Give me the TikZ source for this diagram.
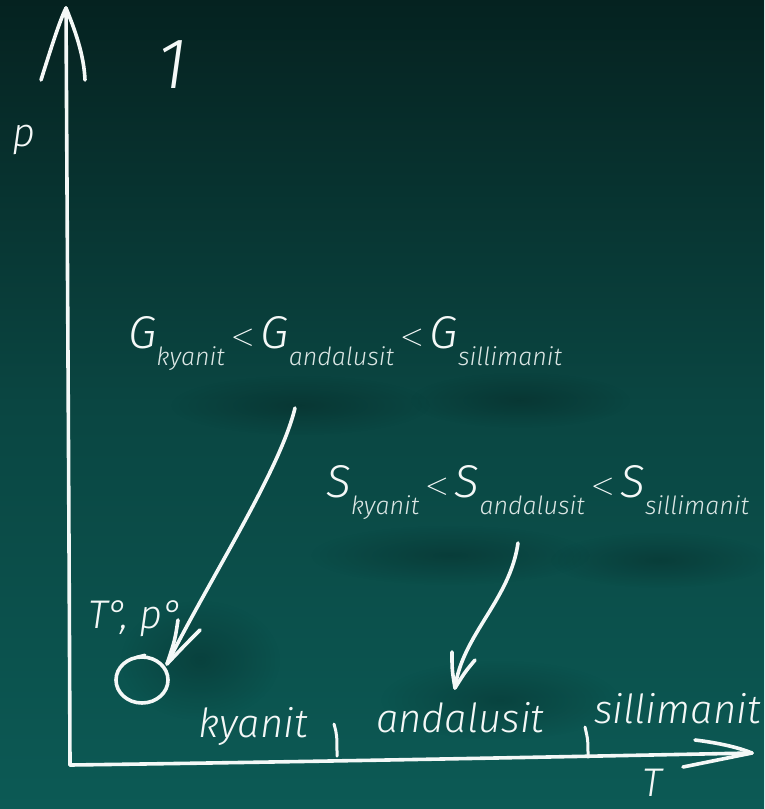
\documentclass[tikz,border=0pt]{standalone}
\usepackage{fontspec}
\usepackage{graphicx}
\usetikzlibrary{shapes.geometric,fadings}
\setmainfont{Fira Sans}[UprightFont=* Light, ItalicFont=* Light Italic]
\definecolor{bgtop}{HTML}{052220}
\definecolor{bgmid}{HTML}{0A4642}
\definecolor{bgbot}{HTML}{0C5A55}
\definecolor{chalk}{HTML}{F4F8F7}
\definecolor{chalksub}{HTML}{DCE7E5}
\tikzfading[name=softblob, inner color=transparent!40, outer color=transparent!100]
\newcommand\chsub[1]{\raisebox{-17pt}{\fontsize{25}{25}\selectfont\color{chalksub}#1}}
\newcommand\lt{\hspace{6pt}\raisebox{3pt}{\fontsize{20}{20}\selectfont\scalebox{1.5}{$<$}}\hspace{6pt}}
\begin{document}
\begin{tikzpicture}[x=1pt,y=-1pt,
  chalkline/.style={draw=chalk,line width=3.6pt,line cap=round,line join=round},
  thinchalk/.style={draw=chalk,line width=3pt,line cap=round},
  shadowblob/.style={fill=black,opacity=0.35,path fading=softblob},
  lbl/.style={text=chalk,inner sep=0pt,font=\itshape\fontsize{40}{40}\selectfont},
  big/.style={text=chalk,inner sep=0pt,font=\itshape\fontsize{46}{46}\selectfont}]
\shade[top color=bgtop,bottom color=bgbot,middle color=bgmid] (0,0) rectangle (764,809);
\useasboundingbox (0,0) rectangle (764,809);
% soft shadows
\fill[shadowblob] (300,405) ellipse (130 and 30);
\fill[shadowblob] (520,400) ellipse (110 and 28);
\fill[shadowblob] (450,555) ellipse (140 and 30);
\fill[shadowblob] (660,560) ellipse (110 and 28);
\fill[shadowblob] (500,700) ellipse (120 and 40);
\fill[shadowblob] (200,660) ellipse (80 and 60);
% axes
\coordinate (O) at (70,765);
\coordinate (ytip) at (66,8);
\coordinate (xtip) at (752,753);
\draw[chalkline] (O) .. controls (69,500) and (67,200) .. (ytip);
\draw[chalkline] (41,80) .. controls (52,45) and (60,20) .. (ytip) .. controls (75,30) and (84,55) .. (85,80);
\draw[chalkline] (O) .. controls (300,762) and (550,757) .. (xtip);
\draw[chalkline] (695,740) .. controls (720,743) and (740,748) .. (xtip) -- (683,767);
% ticks
\coordinate (t1a) at (334,724); \coordinate (t1b) at (337,756);
\coordinate (t2a) at (585,727); \coordinate (t2b) at (588,757);
\draw[thinchalk] (t1a) .. controls (337,735) .. (t1b);
\draw[thinchalk] (t2a) .. controls (588,740) .. (t2b);
% labels
\node[lbl,anchor=base] (p) at (24,146) {p};
\node[lbl,anchor=base] (T) at (652,796) {T};
\node[lbl,anchor=base,font=\itshape\fontsize{72}{72}\selectfont] (one) at (172,88) {1};
\node[big,anchor=base west] (G) at (128,348) {G\chsub{kyanit}\lt G\chsub{andalusit}\lt G\chsub{sillimanit}};
\node[big,anchor=base west] (S) at (326,497) {S\chsub{kyanit}\lt S\chsub{andalusit}\lt S\chsub{sillimanit}};
\node[lbl,anchor=base west] (ky) at (198,737) {kyanit};
\node[lbl,anchor=base west] (an) at (376,732) {andalusit};
\node[lbl,anchor=base west] (si) at (594,723) {sillimanit};
\node[lbl,anchor=base west] (Tp) at (88,628) {T°, p°};
% circle
\node[draw=chalk,line width=3.6pt,ellipse,minimum width=52pt,minimum height=46pt,inner sep=0pt] (c) at (142,680) {};
\draw[thinchalk] (137,657) -- (145,655);
% arrows
\coordinate (a1s) at (295,408);
\coordinate (a1t) at (167,664);
\draw[chalkline] (a1s) .. controls (280,470) and (212,575) .. (a1t);
\draw[chalkline] (178,620) .. controls (175,640) .. (a1t) .. controls (185,645) .. (200,630);
\coordinate (a2s) at (518,543);
\coordinate (a2t) at (455,688);
\draw[chalkline] (a2s) .. controls (510,600) and (462,635) .. (a2t);
\draw[chalkline] (452,652) .. controls (452,670) .. (a2t) .. controls (465,672) .. (475,660);
\end{tikzpicture}
\end{document}
